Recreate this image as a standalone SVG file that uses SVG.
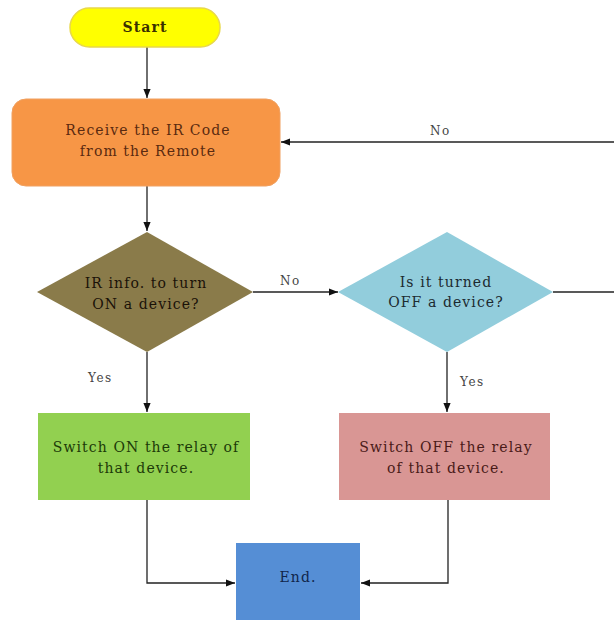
<svg xmlns="http://www.w3.org/2000/svg" width="614" height="620" viewBox="0 0 614 620">
<style>
.t{font-family:"DejaVu Serif","Liberation Serif",serif;font-size:14px;text-anchor:middle;letter-spacing:1.1px}
.lbl{font-family:"DejaVu Serif","Liberation Serif",serif;font-size:12px;fill:#444;letter-spacing:1.5px}
.ln{fill:none;stroke:#222;stroke-width:1.3}
</style>
<defs>
<marker id="ah" viewBox="0 0 10 10" refX="10" refY="5" markerWidth="7" markerHeight="7" orient="auto">
<path d="M0,1 L10,5 L0,9 Z" fill="#111"/>
</marker>
</defs>
<rect width="614" height="620" fill="#fff"/>
<g id="connectors">
<path class="ln" d="M147,47 V98" marker-end="url(#ah)"/>
<path class="ln" d="M614,142 H281" stroke="#777" marker-end="url(#ah)"/>
<path class="ln" d="M147,186 V231" marker-end="url(#ah)"/>
<path class="ln" d="M253,292 H338" stroke="#777" marker-end="url(#ah)"/>
<path class="ln" d="M553,292 H614" stroke="#777"/>
<path class="ln" d="M147,352 V412" marker-end="url(#ah)"/>
<path class="ln" d="M447,352 V412" marker-end="url(#ah)"/>
<path class="ln" d="M147,500 V583 H235" marker-end="url(#ah)"/>
<path class="ln" d="M448,500 V583 H361" marker-end="url(#ah)"/>
<text class="lbl" x="430" y="135">No</text>
<text class="lbl" x="280" y="285">No</text>
<text class="lbl" x="88" y="382">Yes</text>
<text class="lbl" x="460" y="386">Yes</text>
</g>
<g id="start">
<rect x="70" y="8" width="150" height="39" rx="19.5" fill="#FFFF00" stroke="#E8D84A" stroke-width="1.5"/>
<text class="t" x="145" y="32" font-size="13" font-weight="bold" fill="#3a3000">Start</text>
</g>
<g id="receive">
<rect x="12" y="99" width="268" height="87" rx="14" fill="#F79646" stroke="#F0A060" stroke-width="1"/>
<text class="t" x="148" y="135" fill="#5a2a10" font-size="15" letter-spacing="1.3">Receive the IR Code</text>
<text class="t" x="148" y="156" fill="#5a2a10" font-size="15" letter-spacing="1.3">from the Remote</text>
</g>
<g id="decision-on">
<polygon points="147,232 253,292 147,352 37,292" fill="#8A7B4A"/>
<text class="t" x="146" y="288" fill="#1a1208">IR info. to turn</text>
<text class="t" x="146" y="309" fill="#1a1208">ON a device?</text>
</g>
<g id="decision-off">
<polygon points="447,232 553,292 447,352 338,292" fill="#92CDDC"/>
<text class="t" x="446" y="287" fill="#1c2a30">Is it turned</text>
<text class="t" x="446" y="307" fill="#1c2a30">OFF a device?</text>
</g>
<g id="switch-on">
<rect x="38" y="413" width="212" height="87" fill="#92D050"/>
<text class="t" x="146" y="452" fill="#1c3a08">Switch ON the relay of</text>
<text class="t" x="146" y="473" fill="#1c3a08">that device.</text>
</g>
<g id="switch-off">
<rect x="339" y="413" width="211" height="87" fill="#D99694"/>
<text class="t" x="446" y="452" fill="#4a1a18">Switch OFF the relay</text>
<text class="t" x="446" y="473" fill="#4a1a18">of that device.</text>
</g>
<g id="end">
<rect x="236" y="543" width="124" height="77" fill="#558ED5"/>
<text class="t" x="298" y="582" fill="#10254a">End.</text>
</g>
</svg>
